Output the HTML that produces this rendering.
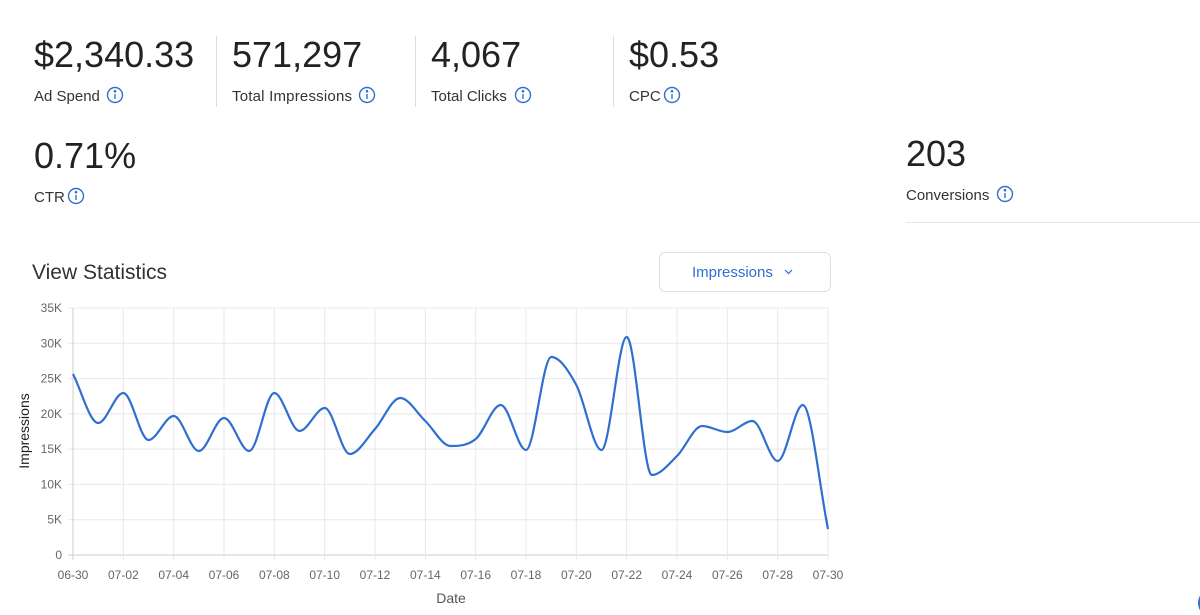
<!DOCTYPE html>
<html><head><meta charset="utf-8"><style>
html,body{margin:0;padding:0;background:#fff;width:1200px;height:615px;overflow:hidden;font-family:"Liberation Sans",sans-serif;}
</style></head><body>
<svg id="s" width="1200" height="615" xmlns="http://www.w3.org/2000/svg" style="position:absolute;left:0;top:0">
<g font-family="Liberation Sans, sans-serif" fill="#222">
<text x="34" y="67" font-size="36">$2,340.33</text>
<text x="232" y="67" font-size="36">571,297</text>
<text x="431" y="67" font-size="36">4,067</text>
<text x="629" y="67" font-size="36">$0.53</text>
<text x="34" y="101" font-size="15" fill="#333">Ad Spend</text>
<text x="232" y="101" font-size="15" fill="#333" textLength="120">Total Impressions</text>
<text x="431" y="101" font-size="15" fill="#333">Total Clicks</text>
<text x="629" y="101" font-size="15" fill="#333">CPC</text>
<text x="34" y="168" font-size="36">0.71%</text>
<text x="34" y="202" font-size="15" fill="#333">CTR</text>
<text x="906" y="166" font-size="36">203</text>
<text x="906" y="200" font-size="15" fill="#333">Conversions</text>
<text x="32" y="279" font-size="21" fill="#333">View Statistics</text>
</g>
<g stroke="#ddd" stroke-width="1">
<line x1="216.5" y1="36" x2="216.5" y2="107"/>
<line x1="415.5" y1="36" x2="415.5" y2="107"/>
<line x1="613.5" y1="36" x2="613.5" y2="107"/>
<line x1="906" y1="222.5" x2="1200" y2="222.5" stroke="#e4e4e4"/>
</g>
<g id="icons" fill="none" stroke="#2f6fd0" stroke-width="1.4"></g>
<rect x="659.5" y="252.5" width="171" height="39" rx="6" fill="#fff" stroke="#ddd"/>
<text x="692" y="277" font-size="15" fill="#2f6fd0" font-family="Liberation Sans, sans-serif">Impressions</text>
<path d="M785 270 l3.5 3.5 l3.5 -3.5" fill="none" stroke="#2f6fd0" stroke-width="1.2"/>
<g id="grid"></g>
<path id="line" fill="none" stroke="#2f6fd0" stroke-width="2.2" stroke-linejoin="round"/>
<text x="451" y="603" font-size="14" fill="#555" text-anchor="middle" font-family="Liberation Sans, sans-serif">Date</text>
<text transform="translate(29,431) rotate(-90)" font-size="14" fill="#222" text-anchor="middle" font-family="Liberation Sans, sans-serif">Impressions</text>
<circle cx="1212" cy="603" r="14" fill="#2f6fd0"/>
</svg>
<script>
var NS="http://www.w3.org/2000/svg";
function el(p,t,a,txt){var e=document.createElementNS(NS,t);for(var k in a)e.setAttribute(k,a[k]);if(txt!==undefined)e.textContent=txt;p.appendChild(e);return e;}
var ic=document.getElementById('icons');
[[115,95],[367,95],[523,95],[672,95],[76,196],[1005,194]].forEach(function(c){
 el(ic,'circle',{cx:c[0],cy:c[1],r:7.5});
 el(ic,'line',{x1:c[0],y1:c[1]-1,x2:c[0],y2:c[1]+4});
 el(ic,'circle',{cx:c[0],cy:c[1]-3.8,r:0.6,fill:'#2f6fd0'});
});
var g=document.getElementById('grid');
var L=73,R=828,T=308,B=555,dx=(R-L)/30;
for(var k=0;k<=7;k++){var y=B-k*(B-T)/7;
 el(g,'line',{x1:L-5,y1:y,x2:R,y2:y,stroke:k==0?'#ccc':'#e8e8e8'});
 el(g,'text',{x:62,y:y+4,'font-size':12,fill:'#666','text-anchor':'end','font-family':'Liberation Sans, sans-serif'},k==0?'0':(k*5)+'K');}
var labels=['06-30','07-02','07-04','07-06','07-08','07-10','07-12','07-14','07-16','07-18','07-20','07-22','07-24','07-26','07-28','07-30'];
for(var i=0;i<=15;i++){var x=L+i*2*dx;
 el(g,'line',{x1:x,y1:T,x2:x,y2:B+5,stroke:i==0?'#ccc':'#e8e8e8'});
 el(g,'text',{x:x,y:579,'font-size':12,fill:'#666','text-anchor':'middle','font-family':'Liberation Sans, sans-serif'},labels[i]);}
var ys=[374,423,393,440,416,451,418,451,393,431,408,454,429,398,421,446,439,405,450,357,385,450,337,475,456,426,432,421,461,405,529];
var n=ys.length,del=[],m=[];
for(var i=0;i<n-1;i++)del.push((ys[i+1]-ys[i])/dx);
m[0]=del[0];m[n-1]=del[n-2];
for(var i=1;i<n-1;i++){m[i]=(del[i-1]*del[i]<=0)?0:(del[i-1]+del[i])/2;}
for(var i=0;i<n-1;i++){if(del[i]==0){m[i]=m[i+1]=0;continue;}
 var a=m[i]/del[i],b=m[i+1]/del[i],s=a*a+b*b;if(s>9){var t=3/Math.sqrt(s);m[i]=t*a*del[i];m[i+1]=t*b*del[i];}}
var d='M'+L+' '+ys[0];
for(var i=0;i<n-1;i++){var x0=L+i*dx,x1=x0+dx,h=dx/3;
 d+=' C'+(x0+h).toFixed(1)+' '+(ys[i]+m[i]*h).toFixed(1)+' '+(x1-h).toFixed(1)+' '+(ys[i+1]-m[i+1]*h).toFixed(1)+' '+x1.toFixed(1)+' '+ys[i+1];}
document.getElementById('line').setAttribute('d',d);
</script>
</body></html>
